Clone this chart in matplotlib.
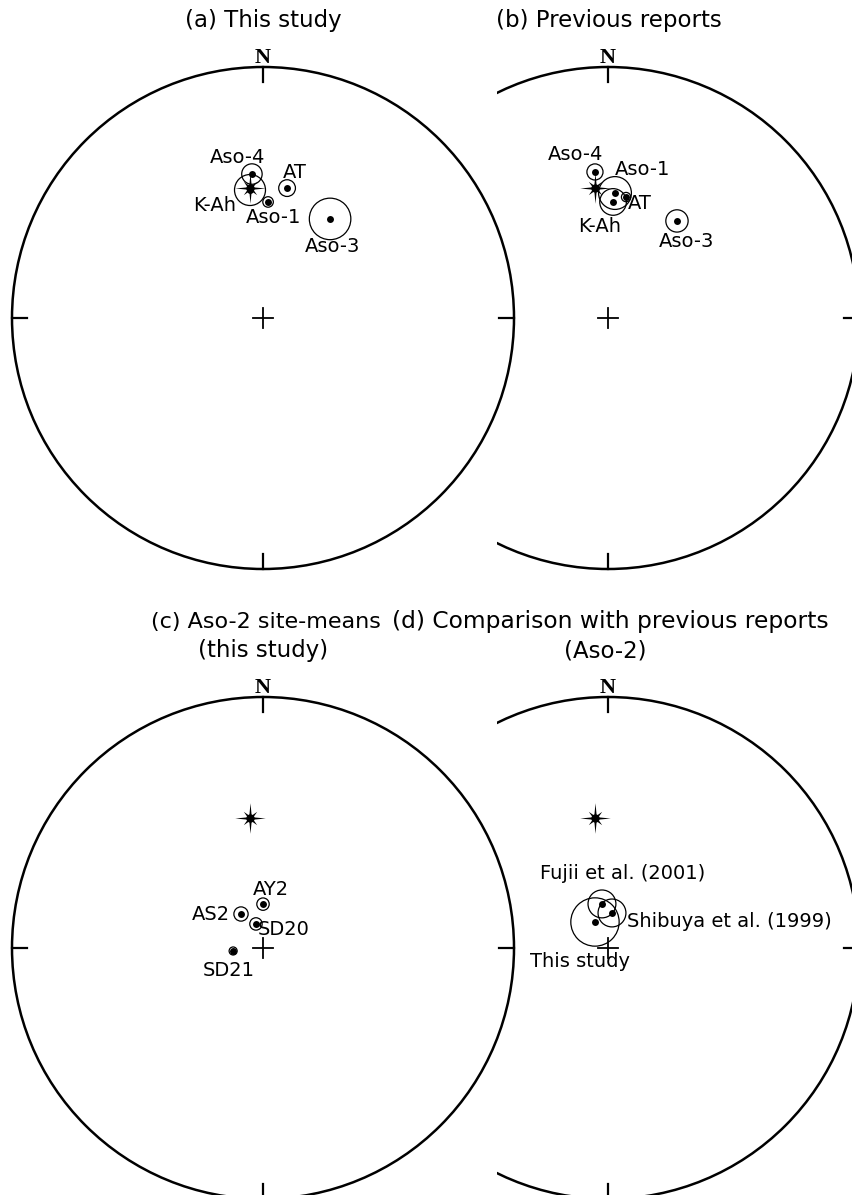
import numpy as np
import matplotlib
matplotlib.use("Agg")
import matplotlib.pyplot as plt
from matplotlib.path import Path
from matplotlib.patches import Circle

# present-day geomagnetic field direction (star)
field_dec = 354.3
field_inc = 46.8

# (a) tephra means, this study
a_names = ["Aso-4", "K-Ah", "AT", "Aso-1", "Aso-3"]
a_dec = [355.6, 354.2, 10.5, 2.5, 34.1]
a_inc = [42.0, 47.5, 46.3, 51.8, 50.6]
a_a95 = [3.3, 5.0, 2.7, 1.7, 6.7]

# (b) previous reports
b_names = ["Aso-4", "Aso-1", "AT", "K-Ah", "Aso-3"]
b_dec = [354.9, 3.2, 8.5, 2.5, 35.4]
b_inc = [41.2, 48.7, 49.7, 51.8, 50.8]
b_a95 = [2.6, 5.3, 1.5, 4.3, 3.6]

# (c) Aso-2 site means
c_names = ["AY2", "AS2", "SD20", "SD21"]
c_dec = [0.0, 327.1, 343.7, 264.3]
c_inc = [75.8, 76.9, 81.9, 80.3]
c_a95 = [2.0, 2.3, 2.0, 1.3]

# (d) Aso-2 comparison
d_names = ["Fujii et al. (2001)", "Shibuya et al. (1999)", "This study"]
d_dec = [352.2, 6.5, 333.4]
d_inc = [75.6, 78.6, 80.6]
d_a95 = [4.5, 4.5, 7.8]

# label offsets in pixels (dx, dy, ha)
a_off = [(-14, 17, "center"), (-35, -15, "center"), (8, 16, "center"),
         (5, -16, "center"), (2, -28, "center")]
b_off = [(-19, 17, "center"), (28, 24, "center"), (14, -6, "center"),
         (-13, -25, "center"), (10, -21, "center")]
c_off = [(8, 15, "center"), (-30, 0, "center"), (28, -6, "center"),
         (-4, -20, "center")]
d_off = [(21, 30, "center"), (15, -9, "left"), (-15, -40, "center")]

W, H = 852, 1195
R = 251.0

fig = plt.figure(figsize=(W / 100, H / 100), dpi=100)
fig.patch.set_facecolor("white")


def project(dec, inc):
    # Schmidt equal-area, lower hemisphere, radius 1 at the primitive
    d = np.radians(dec)
    i = np.radians(inc)
    r = np.sqrt(2) * np.sin((np.pi / 2 - i) / 2)
    return r * np.sin(d), r * np.cos(d)


# 8 pointed star, long cardinal arms
ang = np.radians(np.arange(0, 360, 22.5))
rad = []
for k in range(16):
    if k % 4 == 0:
        rad.append(1.0)
    elif k % 2 == 0:
        rad.append(0.62)
    else:
        rad.append(0.2)
rad = np.array(rad)
verts = np.column_stack([rad * np.sin(ang), rad * np.cos(ang)])
verts = np.vstack([verts, verts[:1]])
star = Path(verts, closed=True)


def stereonet(x0, x1, y0, y1, cx, cy):
    ax = fig.add_axes([x0 / W, 1 - y1 / H, (x1 - x0) / W, (y1 - y0) / H])
    ax.set_xlim((x0 - cx) / R, (x1 - cx) / R)
    ax.set_ylim((cy - y1) / R, (cy - y0) / R)
    ax.set_aspect("auto")
    ax.axis("off")
    ax.add_patch(Circle((0, 0), 1, fill=False, ec="k", lw=1.8))
    tk = 0.06
    ax.plot([0, 0], [1, 1 - tk], color="k", lw=1.6)
    ax.plot([0, 0], [-1, -1 + tk], color="k", lw=1.6)
    ax.plot([-1, -1 + tk], [0, 0], color="k", lw=1.6)
    ax.plot([1, 1 - tk], [0, 0], color="k", lw=1.6)
    ax.plot([-0.04, 0.04], [0, 0], color="k", lw=1.3)
    ax.plot([0, 0], [-0.04, 0.04], color="k", lw=1.3)
    ax.text(0, 1 + 4 / R, "N", ha="center", va="baseline", fontsize=16,
            fontweight="bold", family="Liberation Serif")
    return ax


def draw_sites(ax, dec, inc, a95, names, offs, show_star=True):
    for k in range(len(dec)):
        px, py = project(dec[k], inc[k])
        # a95 as a round circle; equal-area mean scale is 1/sqrt(2) per radian
        rr = np.radians(a95[k]) / np.sqrt(2)
        ax.add_patch(Circle((px, py), rr, fill=False, ec="k", lw=0.9))
        ax.plot(px, py, "o", color="k", ms=5, mew=0)
        dx, dy, ha = offs[k]
        ax.annotate(names[k], (px, py), xytext=(dx, dy), textcoords="offset pixels",
                    ha=ha, va="center", fontsize=14)
    if show_star:
        sx, sy = project(field_dec, field_inc)
        ax.plot(sx, sy, marker=star, color="k", ms=22, mew=0)
        ax.plot(sx, sy, "o", color="k", ms=6, mew=0)


ax_a = stereonet(0, 520, 35, 600, 263, 318)
draw_sites(ax_a, a_dec, a_inc, a_a95, a_names, a_off)

ax_b = stereonet(497, 852, 35, 600, 608, 318)
draw_sites(ax_b, b_dec, b_inc, b_a95, b_names, b_off)

ax_c = stereonet(0, 520, 665, 1195, 263, 948)
draw_sites(ax_c, c_dec, c_inc, c_a95, c_names, c_off)

ax_d = stereonet(497, 852, 665, 1195, 608, 948)
draw_sites(ax_d, d_dec, d_inc, d_a95, d_names, d_off)

fig.text(263 / W, 1 - 27 / H, "(a) This study", ha="center", va="baseline", fontsize=16.5)
fig.text(609 / W, 1 - 27 / H, "(b) Previous reports", ha="center", va="baseline", fontsize=16.5)
fig.text(266 / W, 1 - 628 / H, "(c) Aso-2 site-means", ha="center", va="baseline", fontsize=16)
fig.text(263 / W, 1 - 657 / H, "(this study)", ha="center", va="baseline", fontsize=16.5)
fig.text(610 / W, 1 - 628 / H, "(d) Comparison with previous reports", ha="center",
         va="baseline", fontsize=16.8)
fig.text(605 / W, 1 - 657 / H, "(Aso-2)", ha="center", va="baseline", fontsize=16.5)

fig.savefig("out.png", dpi=100, facecolor="white")
